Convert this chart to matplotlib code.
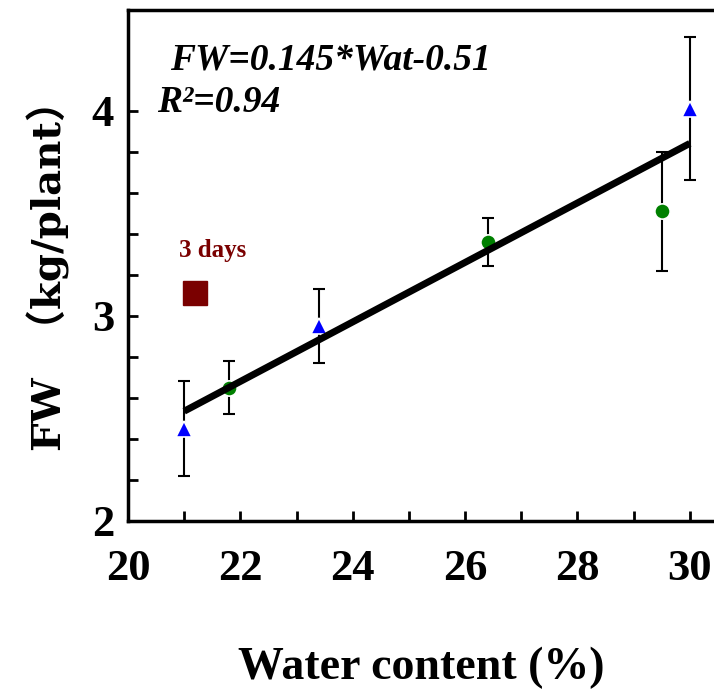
import numpy as np
import matplotlib
matplotlib.use('Agg')
import matplotlib.pyplot as plt
from matplotlib.ticker import MultipleLocator, FixedLocator

# data
tri_x = [21.0, 23.4, 30.0]
tri_y = [2.45, 2.95, 4.01]
tri_err = [0.23, 0.18, 0.35]

dot_x = [21.8, 26.4, 29.5]
dot_y = [2.65, 3.36, 3.51]
dot_err = [0.13, 0.115, 0.29]

sq_x = [21.2]
sq_y = [3.11]

fit_slope = 0.145
fit_icpt = -0.51
fit_range = [21.0, 30.0]

plt.rcParams['font.family'] = ['Liberation Serif', 'Noto Sans CJK SC', 'DejaVu Sans']

fig = plt.figure(figsize=(7.14, 6.98), dpi=100)
ax = fig.add_axes([128/714, 1 - 521/698, 1 - 128/714, (521 - 10)/698])

# error bars
ax.errorbar(tri_x, tri_y, yerr=tri_err, fmt='none', ecolor='black',
            elinewidth=1.5, capsize=4, capthick=1.5, zorder=2)
ax.errorbar(dot_x, dot_y, yerr=dot_err, fmt='none', ecolor='black',
            elinewidth=1.5, capsize=4, capthick=1.5, zorder=2)

# markers
ax.plot(tri_x, tri_y, '^', color='blue', markersize=12,
        markeredgecolor='white', markeredgewidth=1.2, zorder=3)
ax.plot(dot_x, dot_y, 'o', color='green', markersize=11,
        markeredgecolor='white', markeredgewidth=1.2, zorder=3)
ax.plot(sq_x, sq_y, 's', color='#7a0000', markersize=17, zorder=3)

# regression line
fx = np.array(fit_range)
ax.plot(fx, fit_slope * fx + fit_icpt, color='black', lw=5,
        solid_capstyle='butt', zorder=4)

ax.text(21.5, 3.32, '3 days', color='#7a0000', fontsize=18,
        fontweight='bold', ha='center', va='center')
ax.text(20.75, 4.245, 'FW=0.145*Wat-0.51', fontsize=27, fontweight='bold',
        style='italic', ha='left', va='center')
ax.text(20.52, 4.04, 'R²=0.94', fontsize=27, fontweight='bold',
        style='italic', ha='left', va='center')

ax.set_xlim(20, 30.43)
ax.set_ylim(2, 4.49)
ax.xaxis.set_major_locator(MultipleLocator(2))
ax.xaxis.set_minor_locator(MultipleLocator(1))
ax.yaxis.set_major_locator(FixedLocator([2, 3, 4]))
ax.yaxis.set_minor_locator(FixedLocator([2.2, 2.4, 2.6, 2.8, 3.2, 3.4, 3.6, 3.8]))
ax.tick_params(which='both', direction='in', width=2, length=7,
               top=False, right=False)
ax.tick_params(axis='x', labelsize=32, pad=20)
ax.tick_params(axis='y', labelsize=32, pad=10)
for lab in ax.get_xticklabels() + ax.get_yticklabels():
    lab.set_fontweight('bold')

for s in ['left', 'bottom', 'top']:
    ax.spines[s].set_linewidth(2.5)
ax.spines['right'].set_visible(False)

ax.set_xlabel('Water content (%)', fontsize=33, fontweight='bold', labelpad=42)
ax.set_ylabel('FW  （kg/plant）', fontsize=29, fontweight='bold', labelpad=16,
              family=['DejaVu Serif', 'Noto Sans CJK SC'])

fig.savefig('out.png', dpi=100)
